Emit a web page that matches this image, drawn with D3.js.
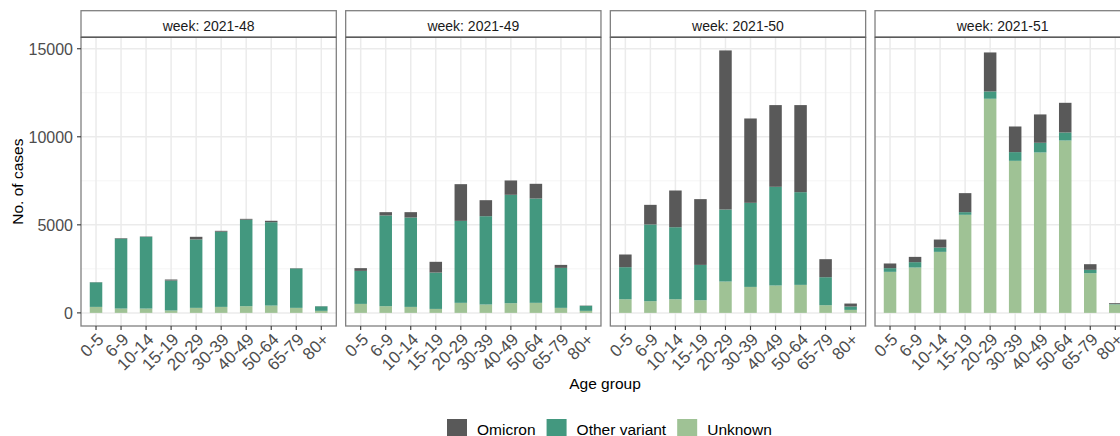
<!DOCTYPE html>
<html>
<head>
<meta charset="utf-8">
<script src="https://cdn.jsdelivr.net/npm/d3@7"></script>
<style>
  body { margin: 0; background: #fff; }
  svg { display: block; font-family: "Liberation Sans", Arial, Helvetica, sans-serif; }
  .tick-label { fill: #4d4d4d; font-size: 16px; }
  .x-label { font-size: 17px; }
  .strip-label { fill: #1a1a1a; font-size: 14px; }
  .axis-title { fill: #000; font-size: 15.5px; }
  .legend-label { fill: #000; font-size: 15.5px; }
</style>
</head>
<body>
<svg id="chart"></svg>
<script>
// ---- data ----
const weeks = ['2021-48', '2021-49', '2021-50', '2021-51'];
const ageGroups = ['0-5', '6-9', '10-14', '15-19', '20-29', '30-39', '40-49', '50-64', '65-79', '80+'];
const seriesNames = ['Omicron', 'Other variant', 'Unknown'];
const yTicks = [0, 5000, 10000, 15000];
const yMinorTicks = [2500, 7500, 12500];

// one row per week, one value per age group
const omicron = [
  [10, 30, 20, 60, 150, 50, 50, 80, 20, 10],
  [155, 190, 305, 610, 2085, 910, 815, 835, 170, 15],
  [720, 1115, 2085, 3735, 9035, 4790, 4640, 4945, 1025, 170],
  [265, 300, 455, 1080, 2215, 1455, 1610, 1685, 320, 50]
];
const otherVariant = [
  [1395, 3970, 4075, 1700, 3885, 4270, 4910, 4735, 2235, 255],
  [1875, 5150, 5075, 2065, 4655, 5015, 6155, 5925, 2270, 285],
  [1820, 4355, 4090, 2005, 4090, 4775, 5605, 5265, 1590, 190],
  [210, 305, 245, 150, 415, 495, 550, 455, 190, 20]
];
const unknown = [
  [340, 245, 245, 135, 285, 340, 380, 415, 285, 115],
  [510, 380, 340, 225, 570, 475, 550, 570, 285, 115],
  [775, 665, 775, 720, 1780, 1475, 1555, 1590, 435, 170],
  [2330, 2575, 3465, 5570, 12160, 8635, 9110, 9790, 2255, 480]
];

const colours = {
  'Omicron': '#595959',
  'Other variant': '#43987f',
  'Unknown': '#9fc295'
};

class FacetBarChart {

  constructor(_config, _data) {
    this.config = {
      parentElement: _config.parentElement,
      containerWidth: _config.containerWidth || 1120,
      containerHeight: _config.containerHeight || 436,
      panelLeft: 81,
      panelStep: 264.67,
      panelWidth: 255.3,
      stripTop: 10.7,
      stripHeight: 26.6,
      panelBottom: 326
    };
    this.data = _data;
    this.initVis();
  }

  initVis() {
    let vis = this;
    const c = vis.config;

    vis.panelTop = c.stripTop + c.stripHeight;

    vis.svg = d3.select(c.parentElement)
      .attr('width', c.containerWidth)
      .attr('height', c.containerHeight);

    // ggplot style discrete scale: 0.6 of a step padding on each side, bars 0.5 wide
    vis.xScale = d3.scalePoint()
      .domain(ageGroups)
      .range([0, c.panelWidth])
      .padding(0.6);
    vis.barWidth = vis.xScale.step() * 0.5;

    // stack: unknown at the bottom, omicron on top
    vis.stack = d3.stack().keys(['Unknown', 'Other variant', 'Omicron']);

    vis.updateVis();
  }

  updateVis() {
    let vis = this;
    const c = vis.config;

    vis.stacked = vis.data.map(w => vis.stack(w.rows));
    const maxTotal = d3.max(vis.data, w => d3.max(w.rows, r => r.Unknown + r['Other variant'] + r.Omicron));

    // continuous scale with 5% expansion either side
    vis.yScale = d3.scaleLinear()
      .domain([-0.05 * maxTotal, 1.05 * maxTotal])
      .range([c.panelBottom, vis.panelTop]);

    vis.renderVis();
  }

  renderVis() {
    let vis = this;
    const c = vis.config;
    const panelH = c.panelBottom - vis.panelTop;

    const panels = vis.svg.selectAll('.panel')
      .data(vis.data)
      .join('g')
        .attr('class', 'panel')
        .attr('transform', (d, i) => `translate(${c.panelLeft + i * c.panelStep},0)`);

    // grid
    panels.selectAll('.minor')
      .data(yMinorTicks)
      .join('line')
        .attr('class', 'minor')
        .attr('x1', 0).attr('x2', c.panelWidth)
        .attr('y1', d => vis.yScale(d)).attr('y2', d => vis.yScale(d))
        .attr('stroke', '#f2f2f2').attr('stroke-width', 0.8);

    panels.selectAll('.major-y')
      .data(yTicks)
      .join('line')
        .attr('class', 'major-y')
        .attr('x1', 0).attr('x2', c.panelWidth)
        .attr('y1', d => vis.yScale(d)).attr('y2', d => vis.yScale(d))
        .attr('stroke', '#ebebeb').attr('stroke-width', 1.5);

    panels.selectAll('.major-x')
      .data(ageGroups)
      .join('line')
        .attr('class', 'major-x')
        .attr('x1', d => vis.xScale(d)).attr('x2', d => vis.xScale(d))
        .attr('y1', vis.panelTop).attr('y2', c.panelBottom)
        .attr('stroke', '#ebebeb').attr('stroke-width', 1.5);

    // stacked bars
    panels.each(function(w, i) {
      const g = d3.select(this);
      g.selectAll('.layer')
        .data(vis.stacked[i])
        .join('g')
          .attr('class', 'layer')
          .attr('fill', s => colours[s.key])
        .selectAll('rect')
        .data(s => s)
        .join('rect')
          .attr('x', d => vis.xScale(d.data.age) - vis.barWidth / 2)
          .attr('width', vis.barWidth)
          .attr('y', d => vis.yScale(d[1]))
          .attr('height', d => Math.max(0, vis.yScale(d[0]) - vis.yScale(d[1])));
    });

    // panel border
    panels.append('rect')
      .attr('x', 0).attr('y', vis.panelTop)
      .attr('width', c.panelWidth).attr('height', panelH)
      .attr('fill', 'none')
      .attr('stroke', '#808080').attr('stroke-width', 1.3);

    // strip
    panels.append('rect')
      .attr('x', 0).attr('y', c.stripTop)
      .attr('width', c.panelWidth).attr('height', c.stripHeight)
      .attr('fill', '#fff')
      .attr('stroke', '#808080').attr('stroke-width', 1.3);

    panels.append('line')
      .attr('x1', 0).attr('x2', c.panelWidth)
      .attr('y1', vis.panelTop).attr('y2', vis.panelTop)
      .attr('stroke', '#5a5a5a').attr('stroke-width', 1.6);

    panels.append('text')
      .attr('class', 'strip-label')
      .attr('x', c.panelWidth / 2)
      .attr('y', c.stripTop + 19.8)
      .attr('text-anchor', 'middle')
      .text(d => `week: ${d.week}`);

    // x axis ticks and rotated labels
    panels.selectAll('.x-tick')
      .data(ageGroups)
      .join('line')
        .attr('class', 'x-tick')
        .attr('x1', d => vis.xScale(d)).attr('x2', d => vis.xScale(d))
        .attr('y1', c.panelBottom).attr('y2', c.panelBottom + 4)
        .attr('stroke', '#333').attr('stroke-width', 1.1);

    panels.selectAll('.x-label')
      .data(ageGroups)
      .join('text')
        .attr('class', 'tick-label x-label')
        .attr('transform', d => `translate(${vis.xScale(d)},${c.panelBottom + 6}) rotate(-45)`)
        .attr('text-anchor', 'end')
        .attr('dy', '0.72em')
        .text(d => d);

    // y axis on the first panel only
    const yAxisG = vis.svg.append('g');
    yAxisG.selectAll('line')
      .data(yTicks)
      .join('line')
        .attr('x1', c.panelLeft - 4).attr('x2', c.panelLeft)
        .attr('y1', d => vis.yScale(d)).attr('y2', d => vis.yScale(d))
        .attr('stroke', '#333').attr('stroke-width', 1.1);
    yAxisG.selectAll('text')
      .data(yTicks)
      .join('text')
        .attr('class', 'tick-label')
        .attr('x', c.panelLeft - 8)
        .attr('y', d => vis.yScale(d))
        .attr('dy', '0.36em')
        .attr('text-anchor', 'end')
        .text(d => d);

    // axis titles
    vis.svg.append('text')
      .attr('class', 'axis-title')
      .attr('transform', `translate(22.5,${(vis.panelTop + c.panelBottom) / 2}) rotate(-90)`)
      .attr('text-anchor', 'middle')
      .text('No. of cases');

    vis.svg.append('text')
      .attr('class', 'axis-title')
      .attr('x', 605)
      .attr('y', 389)
      .attr('text-anchor', 'middle')
      .text('Age group');

    // legend
    const legend = vis.svg.append('g')
      .attr('transform', 'translate(447,419)');
    let xPos = 0;
    seriesNames.forEach(name => {
      legend.append('rect')
        .attr('x', xPos).attr('y', 0)
        .attr('width', 20).attr('height', 20)
        .attr('fill', colours[name]);
      const t = legend.append('text')
        .attr('class', 'legend-label')
        .attr('x', xPos + 30)
        .attr('y', 10)
        .attr('dy', '0.36em')
        .text(name);
      xPos += 30 + t.node().getComputedTextLength() + 11;
    });
  }
}

const chartData = weeks.map((week, wi) => ({
  week: week,
  rows: ageGroups.map((age, ai) => ({
    age: age,
    'Omicron': omicron[wi][ai],
    'Other variant': otherVariant[wi][ai],
    'Unknown': unknown[wi][ai]
  }))
}));

new FacetBarChart({ parentElement: '#chart' }, chartData);
</script>
</body>
</html>
